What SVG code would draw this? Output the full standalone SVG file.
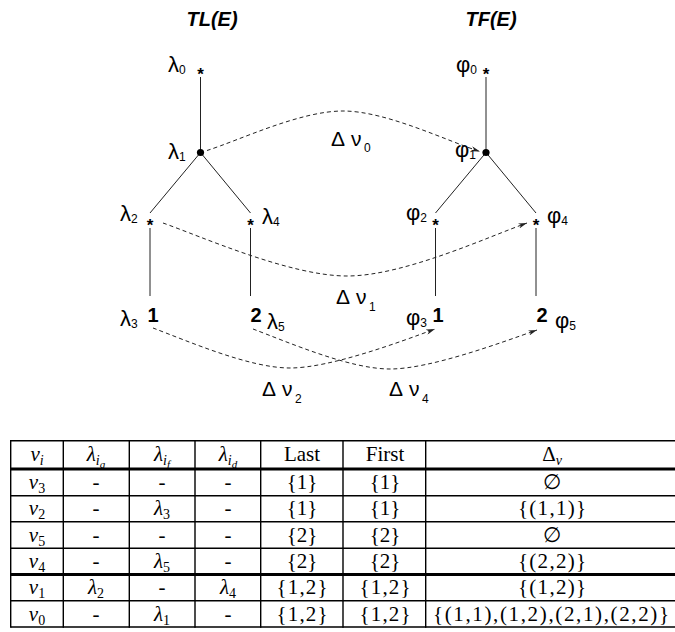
<svg xmlns="http://www.w3.org/2000/svg" width="675" height="632" viewBox="0 0 675 632">
<style>
  .title{font-family:"Liberation Sans",Arial,sans-serif;font-weight:bold;font-style:italic;font-size:20px;fill:#000;text-anchor:middle}
  .lbl{font-family:"Liberation Sans",Arial,sans-serif;font-size:22px;fill:#000}
  .sub{font-size:12px}
  .star{font-family:"Liberation Sans",Arial,sans-serif;font-size:17px;font-weight:bold;text-anchor:middle}
  .leaf{font-family:"Liberation Sans",Arial,sans-serif;font-size:20px;font-weight:bold;text-anchor:middle}
  .edge{stroke:#222;stroke-width:1;fill:none}
  .delta{stroke:#222;stroke-width:1;fill:none;stroke-dasharray:4 3;marker-end:url(#ah)}
  .dl{font-family:"Liberation Sans",Arial,sans-serif;font-size:21px;fill:#000}
  .tb{font-family:"Liberation Serif","DejaVu Serif","Times New Roman",serif;font-size:21px;text-anchor:middle;fill:#000}
  .m{font-style:italic}
  .grid{stroke:#000;stroke-width:1.4;fill:none}
  .thick{stroke:#000;stroke-width:3;fill:none}
</style>
<defs>
  <marker id="ah" viewBox="0 0 10 6" refX="10" refY="3" markerWidth="9" markerHeight="5.4" markerUnits="userSpaceOnUse" orient="auto">
    <path d="M0,0 L10,3 L0,6 L3,3 Z" fill="#222"/>
  </marker>
</defs>

<!-- tree titles -->
<text class="title" x="212" y="26">TL(E)</text>
<text class="title" x="491" y="26">TF(E)</text>

<!-- tree edges -->
<g id="tree-edges">
  <path class="edge" d="M200.5,77 V152.5"/>
  <path class="edge" d="M200.5,152.5 L150,213"/>
  <path class="edge" d="M200.5,152.5 L250.5,213"/>
  <path class="edge" d="M150,228 V296"/>
  <path class="edge" d="M250.5,228 V296"/>
  <path class="edge" d="M486,77 V152.5"/>
  <path class="edge" d="M486,152.5 L435.5,213"/>
  <path class="edge" d="M486,152.5 L536,213"/>
  <path class="edge" d="M435.5,228 V296"/>
  <path class="edge" d="M536,228 V296"/>
</g>

<!-- TL(E) nodes -->
<g id="lambda0">
  <text class="star" x="200.5" y="80">*</text>
  <text class="lbl" x="168" y="72">λ<tspan class="sub" dy="2">0</tspan></text>
</g>
<g id="lambda1">
  <circle cx="200.5" cy="152.5" r="3.6" fill="#000"/>
  <text class="lbl" x="168" y="159">λ<tspan class="sub" dy="2">1</tspan></text>
</g>
<g id="lambda2">
  <text class="star" x="150" y="231">*</text>
  <text class="lbl" x="120" y="221">λ<tspan class="sub" dy="2">2</tspan></text>
</g>
<g id="lambda4">
  <text class="star" x="250.5" y="231">*</text>
  <text class="lbl" x="262" y="224">λ<tspan class="sub" dy="2">4</tspan></text>
</g>
<g id="lambda3">
  <text class="leaf" x="153" y="322">1</text>
  <text class="lbl" x="120" y="326">λ<tspan class="sub" dy="2">3</tspan></text>
</g>
<g id="lambda5">
  <text class="leaf" x="256" y="322">2</text>
  <text class="lbl" x="267" y="329">λ<tspan class="sub" dy="2">5</tspan></text>
</g>

<!-- TF(E) nodes -->
<g id="phi0">
  <text class="star" x="486" y="80">*</text>
  <text class="lbl" x="456" y="72">φ<tspan class="sub" dy="2">0</tspan></text>
</g>
<g id="phi1">
  <circle cx="486" cy="152.5" r="3.6" fill="#000"/>
  <text class="lbl" x="455" y="157">φ<tspan class="sub" dy="2">1</tspan></text>
</g>
<g id="phi2">
  <text class="star" x="435.5" y="231">*</text>
  <text class="lbl" x="406" y="220">φ<tspan class="sub" dy="2">2</tspan></text>
</g>
<g id="phi4">
  <text class="star" x="536" y="231">*</text>
  <text class="lbl" x="547" y="223">φ<tspan class="sub" dy="2">4</tspan></text>
</g>
<g id="phi3">
  <text class="leaf" x="438" y="322">1</text>
  <text class="lbl" x="406" y="325">φ<tspan class="sub" dy="2">3</tspan></text>
</g>
<g id="phi5">
  <text class="leaf" x="542" y="322">2</text>
  <text class="lbl" x="555" y="328">φ<tspan class="sub" dy="2">5</tspan></text>
</g>

<!-- dashed correspondence connectors -->
<g id="connectors">
  <path class="delta" d="M207,150.5 C240,140 300,111 343,111 C386,111 447,141 480,151.5"/>
  <path class="delta" d="M163,223 C200,236 290,276 347,276 C404,276 490,236 527,223"/>
  <path class="delta" d="M153,328 C190,342 250,368 290,368 C330,368 400,342 435,329"/>
  <path class="delta" d="M253,329 C290,343 350,369 390,369 C430,369 500,343 537,330"/>
</g>

<!-- connector labels -->
<g id="delta-labels">
  <text class="dl" x="331" y="146">Δ<tspan x="351">ν</tspan><tspan class="sub" x="364" dy="6">0</tspan></text>
  <text class="dl" x="336" y="304">Δ<tspan x="356">ν</tspan><tspan class="sub" x="369" dy="7">1</tspan></text>
  <text class="dl" x="262" y="396">Δ<tspan x="282">ν</tspan><tspan class="sub" x="295" dy="7">2</tspan></text>
  <text class="dl" x="389" y="396">Δ<tspan x="409">ν</tspan><tspan class="sub" x="422" dy="7">4</tspan></text>
</g>

<!-- table -->
<g id="table">
  <path class="grid" d="M10.7,440.7 H675 M10.7,495.7 H675 M10.7,521.7 H675 M10.7,548.3 H675 M10.7,600.7 H675 M10.7,627 H675"/>
  <path class="thick" d="M10.7,469 H675 M10.7,574.5 H675"/>
  <path class="grid" d="M10.7,440 V627.7 M63.3,440 V627.7 M129.3,440 V627.7 M195,440 V627.7 M260.7,440 V627.7 M343,440 V627.7 M425.7,440 V627.7"/>

  <!-- header -->
  <text class="tb" x="37" y="461"><tspan class="m">ν</tspan><tspan class="m" font-size="14" dy="4">i</tspan></text>
  <text class="tb" x="96" y="461"><tspan class="m">λ</tspan><tspan class="m" font-size="14" dy="4">i</tspan><tspan class="m" font-size="11" dy="3">g</tspan></text>
  <text class="tb" x="162" y="461"><tspan class="m">λ</tspan><tspan class="m" font-size="14" dy="4">i</tspan><tspan class="m" font-size="11" dy="3">f</tspan></text>
  <text class="tb" x="228" y="461"><tspan class="m">λ</tspan><tspan class="m" font-size="14" dy="4">i</tspan><tspan class="m" font-size="11" dy="3">d</tspan></text>
  <text class="tb" x="302" y="461">Last</text>
  <text class="tb" x="385" y="461">First</text>
  <text class="tb" x="552" y="461">Δ<tspan class="m" font-size="14" dy="4">ν</tspan></text>

  <!-- row nu3 -->
  <text class="tb" x="37" y="488.5"><tspan class="m">ν</tspan><tspan font-size="14" dy="4">3</tspan></text>
  <text class="tb" x="96" y="488.5">-</text>
  <text class="tb" x="162" y="488.5">-</text>
  <text class="tb" x="228" y="488.5">-</text>
  <text class="tb" x="302" y="488.5">{1}</text>
  <text class="tb" x="385" y="488.5">{1}</text>
  <text class="tb" x="552" y="488.5">∅</text>

  <!-- row nu2 -->
  <text class="tb" x="37" y="515"><tspan class="m">ν</tspan><tspan font-size="14" dy="4">2</tspan></text>
  <text class="tb" x="96" y="515">-</text>
  <text class="tb" x="162" y="515"><tspan class="m">λ</tspan><tspan font-size="14" dy="4">3</tspan></text>
  <text class="tb" x="228" y="515">-</text>
  <text class="tb" x="302" y="515">{1}</text>
  <text class="tb" x="385" y="515">{1}</text>
  <text class="tb" x="552" y="515" textLength="68" lengthAdjust="spacing">{(1,1)}</text>

  <!-- row nu5 -->
  <text class="tb" x="37" y="541.5"><tspan class="m">ν</tspan><tspan font-size="14" dy="4">5</tspan></text>
  <text class="tb" x="96" y="541.5">-</text>
  <text class="tb" x="162" y="541.5">-</text>
  <text class="tb" x="228" y="541.5">-</text>
  <text class="tb" x="302" y="541.5">{2}</text>
  <text class="tb" x="385" y="541.5">{2}</text>
  <text class="tb" x="552" y="541.5">∅</text>

  <!-- row nu4 -->
  <text class="tb" x="37" y="567.5"><tspan class="m">ν</tspan><tspan font-size="14" dy="4">4</tspan></text>
  <text class="tb" x="96" y="567.5">-</text>
  <text class="tb" x="162" y="567.5"><tspan class="m">λ</tspan><tspan font-size="14" dy="4">5</tspan></text>
  <text class="tb" x="228" y="567.5">-</text>
  <text class="tb" x="302" y="567.5">{2}</text>
  <text class="tb" x="385" y="567.5">{2}</text>
  <text class="tb" x="552" y="567.5" textLength="68" lengthAdjust="spacing">{(2,2)}</text>

  <!-- row nu1 -->
  <text class="tb" x="37" y="594"><tspan class="m">ν</tspan><tspan font-size="14" dy="4">1</tspan></text>
  <text class="tb" x="96" y="594"><tspan class="m">λ</tspan><tspan font-size="14" dy="4">2</tspan></text>
  <text class="tb" x="162" y="594">-</text>
  <text class="tb" x="228" y="594"><tspan class="m">λ</tspan><tspan font-size="14" dy="4">4</tspan></text>
  <text class="tb" x="302" y="594" textLength="51" lengthAdjust="spacing">{1,2}</text>
  <text class="tb" x="385" y="594" textLength="51" lengthAdjust="spacing">{1,2}</text>
  <text class="tb" x="552" y="594" textLength="68" lengthAdjust="spacing">{(1,2)}</text>

  <!-- row nu0 -->
  <text class="tb" x="37" y="620.5"><tspan class="m">ν</tspan><tspan font-size="14" dy="4">0</tspan></text>
  <text class="tb" x="96" y="620.5">-</text>
  <text class="tb" x="162" y="620.5"><tspan class="m">λ</tspan><tspan font-size="14" dy="4">1</tspan></text>
  <text class="tb" x="228" y="620.5">-</text>
  <text class="tb" x="302" y="620.5" textLength="51" lengthAdjust="spacing">{1,2}</text>
  <text class="tb" x="385" y="620.5" textLength="51" lengthAdjust="spacing">{1,2}</text>
  <text class="tb" x="551" y="620.5" textLength="236" lengthAdjust="spacing">{(1,1),(1,2),(2,1),(2,2)}</text>
</g>
</svg>
